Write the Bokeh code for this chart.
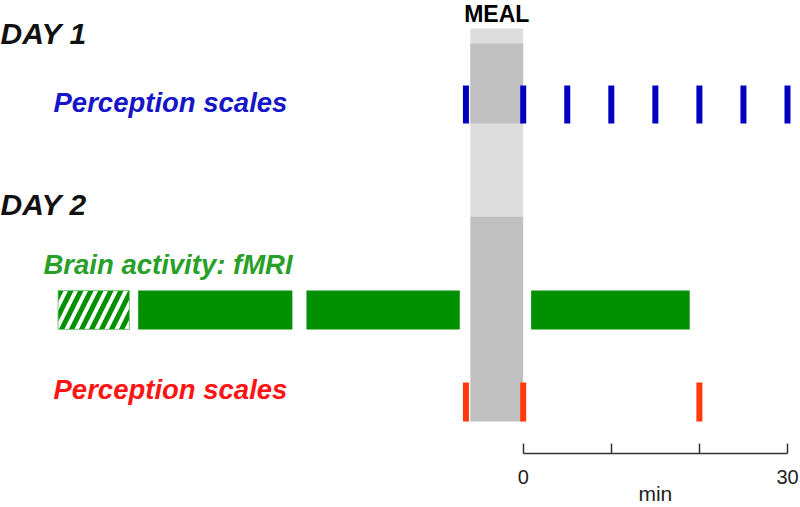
from bokeh.plotting import figure
from bokeh.models import Range1d, LinearAxis, FixedTicker
from bokeh.core.properties import value
from bokeh.embed import file_html
from bokeh.resources import INLINE

# ---------------- data (minutes relative to meal end) ----------------
meal_start = [-6.0]
meal_end = [0.0]
meal_label = ["MEAL"]

day_labels = ["DAY 1", "DAY 2"]

day1_scale_label = ["Perception scales"]
day1_scale_times = [-6.5, 0, 5, 10, 15, 20, 25, 30]

fmri_label = ["Brain activity: fMRI"]
fmri_pre_start = [-52.8]
fmri_pre_end = [-44.7]
fmri_start = [-43.7, -24.6, 0.9]
fmri_end = [-26.2, -7.2, 18.9]

day2_scale_label = ["Perception scales"]
day2_scale_times = [-6.5, 0, 20]

axis_ticks = [0, 10, 20, 30]
axis_tick_labels = {0: "0", 10: "", 20: "", 30: "30"}
axis_title = "min"

# ---------------- layout helpers ----------------
ZERO_PX = 522.7      # page x of minute 0
PX_PER_MIN = 8.81
W, H = 800, 507
AXIS_Y = 453
BOTTOM = H - AXIS_Y


def xdata(page_x):
    return (page_x - ZERO_PX) / PX_PER_MIN


X0, X1 = xdata(0), xdata(W)

p = figure(width=W, height=H, x_range=Range1d(X0, X1), y_range=Range1d(AXIS_Y, 0),
           output_backend="svg", toolbar_location=None, x_axis_type=None, y_axis_type=None,
           min_border_left=0, min_border_right=0, min_border_top=0, min_border_bottom=BOTTOM)
p.outline_line_color = None
p.background_fill_color = "white"
p.border_fill_color = "white"

FONT_NAME = "Liberation Sans"
FONT = value(FONT_NAME)
LIGHT = "#dddddd"
DARK = "#c0c0c0"
BLUE_T = "#1616c8"
BLUE_M = "#0000c0"
GREEN_T = "#28a028"
GREEN_M = "#009000"
RED_T = "#ff1414"
RED_M = "#ff3a0a"

# meal band
p.quad(left=meal_start, right=meal_end, top=28, bottom=216, fill_color=LIGHT, line_color=None)
p.quad(left=meal_start, right=meal_end, top=43, bottom=123, fill_color=DARK, line_color=None)
p.quad(left=meal_start, right=meal_end, top=216, bottom=421, fill_color=DARK, line_color=None)

# meal label
p.text(x=[(meal_start[0] + meal_end[0]) / 2], y=[13], text=meal_label, text_font=FONT,
       text_font_style="bold", text_font_size="23px", text_color="black",
       text_align="center", text_baseline="middle")

# day labels
p.text(x=[xdata(0)] * 2, y=[33, 204], text=day_labels, text_font=FONT,
       text_font_style="bold italic", text_font_size="30px", text_color="#111111",
       text_align="left", text_baseline="middle")

# day 1 perception
p.text(x=[xdata(53)], y=[101.5], text=day1_scale_label, text_font=FONT,
       text_font_style="bold italic", text_font_size="27.5px", text_color=BLUE_T,
       text_align="left", text_baseline="middle")
p.rect(x=day1_scale_times, y=[104] * len(day1_scale_times), width=6, width_units="screen",
       height=38, fill_color=BLUE_M, line_color=None)

# fMRI
p.text(x=[xdata(43)], y=[264], text=fmri_label, text_font=FONT,
       text_font_style="bold italic", text_font_size="27.5px", text_color=GREEN_T,
       text_align="left", text_baseline="middle")
p.quad(left=fmri_pre_start, right=fmri_pre_end, top=290, bottom=329, fill_color="white",
       line_color="#7cc87c", line_width=1, hatch_pattern="/", hatch_color=GREEN_M,
       hatch_weight=5, hatch_scale=20)
p.quad(left=fmri_start, right=fmri_end, top=290, bottom=329, fill_color=GREEN_M, line_color=None)

# day 2 perception
p.text(x=[xdata(53)], y=[388.5], text=day2_scale_label, text_font=FONT,
       text_font_style="bold italic", text_font_size="27.5px", text_color=RED_T,
       text_align="left", text_baseline="middle")
p.rect(x=day2_scale_times, y=[401.5] * len(day2_scale_times), width=6, width_units="screen",
       height=39, fill_color=RED_M, line_color=None)

# time axis
ax = LinearAxis(ticker=FixedTicker(ticks=axis_ticks), bounds=(axis_ticks[0], axis_ticks[-1]),
                major_label_overrides=axis_tick_labels,
                major_tick_in=10, major_tick_out=0, minor_tick_in=0, minor_tick_out=0,
                axis_line_color="#333333", major_tick_line_color="#333333",
                axis_line_width=1.5, major_tick_line_width=1.5,
                major_label_standoff=16,
                major_label_text_font=FONT_NAME, major_label_text_font_size="20px",
                major_label_text_color="#222222")
p.add_layout(ax, "below")

# axis title centred under the bounded axis (a line-less second axis)
mid = (axis_ticks[0] + axis_ticks[-1]) / 2
title_axis = LinearAxis(ticker=FixedTicker(ticks=[mid]), major_label_overrides={mid: axis_title},
                        axis_line_color=None, major_tick_line_color=None,
                        minor_tick_line_color=None, major_tick_in=0, major_tick_out=0,
                        minor_tick_in=0, minor_tick_out=0, major_label_standoff=-5,
                        major_label_text_font=FONT_NAME, major_label_text_font_size="21px",
                        major_label_text_color="#222222")
p.add_layout(title_axis, "below")

open("out.html", "w").write(file_html(p, INLINE))
